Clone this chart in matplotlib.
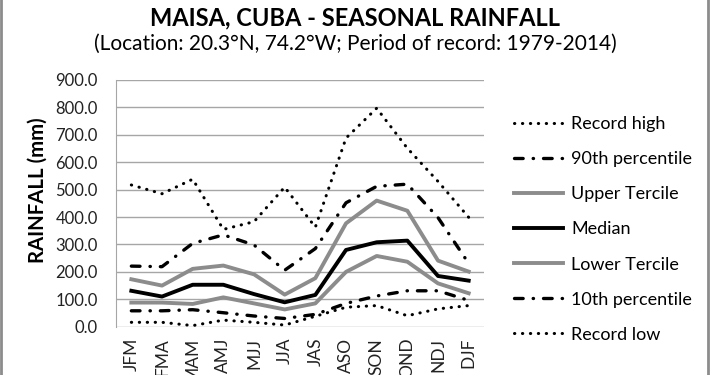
import matplotlib
matplotlib.use("Agg")
import matplotlib.pyplot as plt
from matplotlib.patches import Rectangle

plt.rcParams['font.family'] = ['Lato', 'DejaVu Sans']

seasons = ["JFM", "FMA", "MAM", "AMJ", "MJJ", "JJA",
           "JAS", "ASO", "SON", "OND", "NDJ", "DJF"]

record_high = [517, 485, 538, 355, 383, 509, 363, 688, 797, 651, 530, 399]
pct90 = [221, 219, 304, 335, 298, 206, 285, 452, 512, 520, 398, 231]
upper_tercile = [173, 150, 211, 223, 191, 117, 177, 377, 460, 423, 241, 201]
median = [131, 110, 153, 153, 119, 89, 116, 280, 308, 314, 185, 168]
lower_tercile = [88, 88, 83, 107, 85, 63, 85, 200, 258, 237, 158, 122]
pct10 = [58, 58, 62, 51, 39, 30, 45, 85, 112, 131, 131, 96]
record_low = [16, 16, 4, 24, 16, 6, 38, 71, 77, 40, 65, 77]

yticks = [0, 100, 200, 300, 400, 500, 600, 700, 800, 900]

gray = '#8c8c8c'
dotted = (0, (0.1, 2.5))
dashdot = (0, (2.6, 3.0, 0.1, 3.0))

fig = plt.figure(figsize=(7.1, 3.75), dpi=100)
ax = fig.add_axes([0.1634, 0.1288, 0.5183, 0.6579])

x = range(len(seasons))
ax.plot(x, record_high, color='black', lw=2.2, ls=dotted, dash_capstyle='round', label='Record high')
ax.plot(x, pct90, color='black', lw=2.4, ls=dashdot, dash_capstyle='round', label='90th percentile')
ax.plot(x, upper_tercile, color=gray, lw=2.8, label='Upper Tercile')
ax.plot(x, median, color='black', lw=2.8, label='Median')
ax.plot(x, lower_tercile, color=gray, lw=2.8, label='Lower Tercile')
ax.plot(x, pct10, color='black', lw=2.4, ls=dashdot, dash_capstyle='round', label='10th percentile')
ax.plot(x, record_low, color='black', lw=2.2, ls=dotted, dash_capstyle='round', label='Record low')

ax.set_xlim(-0.5, len(seasons) - 0.5)
ax.set_ylim(0, 900)
ax.set_yticks(yticks)
ax.set_yticklabels([f"{v:.1f}" for v in yticks], fontsize=12, color='#222222')
ax.set_xticks(list(x))
ax.set_xticklabels(seasons, rotation=90, fontsize=12.5, color='#222222')
ax.tick_params(axis='y', length=0, pad=13)
ax.tick_params(axis='x', length=0, pad=8)
ax.yaxis.grid(True, color='#a6a6a6', lw=1)
ax.set_axisbelow(True)
for s in ['top', 'right', 'bottom']:
    ax.spines[s].set_visible(False)
ax.spines['left'].set_color('#a6a6a6')
ylab = ax.set_ylabel('RAINFALL (mm)', fontsize=11, fontweight='bold')
ax.yaxis.set_label_coords(-0.185, 0.554)

# size the y label so it spans about 145 px, like the reference
fig.canvas.draw()
h = ylab.get_window_extent().height
ylab.set_fontsize(11 * 145 / h)

fig.text(0.5, 0.953, 'MAISA, CUBA - SEASONAL RAINFALL', ha='center', va='center',
         fontsize=17, fontweight='bold')
fig.text(0.5, 0.882, '(Location: 20.3°N, 74.2°W; Period of record: 1979-2014)',
         ha='center', va='center', fontsize=15)

ax.legend(loc='upper left', bbox_to_anchor=(0.714, 0.71), bbox_transform=fig.transFigure,
          frameon=False, fontsize=13, handlelength=2.7, handletextpad=0.45,
          labelspacing=1.06, borderaxespad=0)

fig.add_artist(Rectangle((0.001, -0.01), 0.996, 1.02, transform=fig.transFigure,
                         fill=False, edgecolor='#8c8c8c', lw=2))

fig.savefig('out.png', dpi=100)
